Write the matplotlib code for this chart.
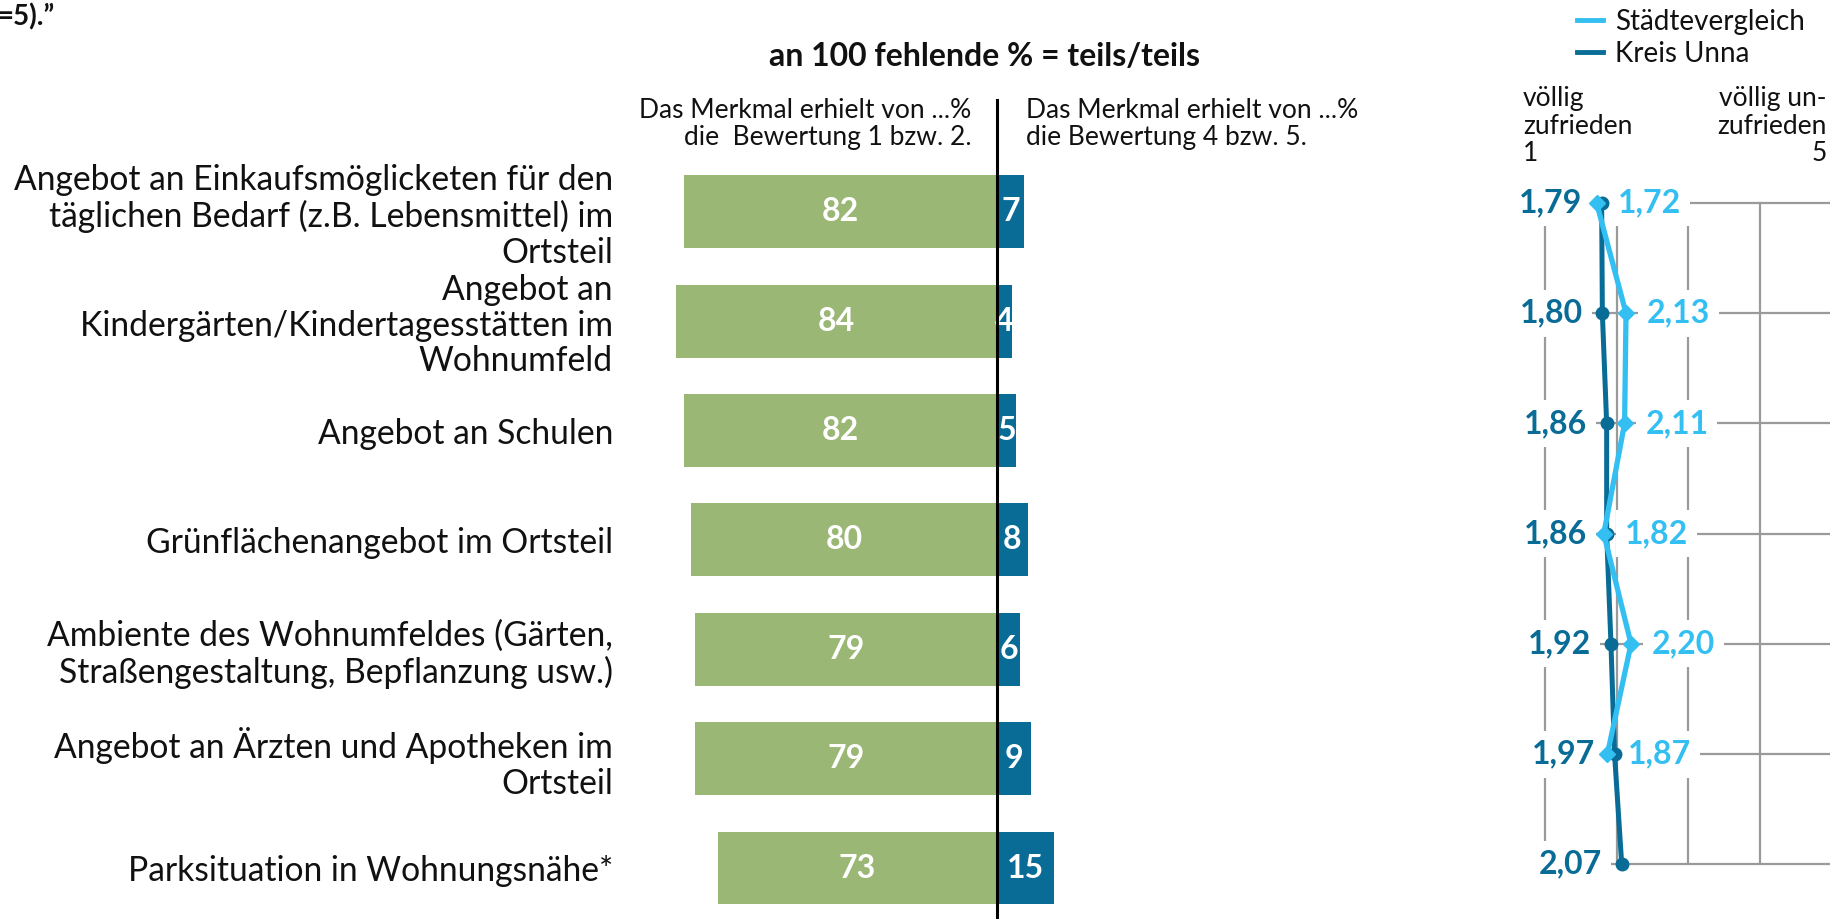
import matplotlib
matplotlib.use("Agg")
import matplotlib.pyplot as plt
from matplotlib.lines import Line2D
import numpy as np

plt.rcParams['font.family'] = ['Lato', 'DejaVu Sans']

# ---------------- data ----------------
categories = [
    "Angebot an Einkaufsmöglicketen für den\ntäglichen Bedarf (z.B. Lebensmittel) im\nOrtsteil",
    "Angebot an\nKindergärten/Kindertagesstätten im\nWohnumfeld",
    "Angebot an Schulen",
    "Grünflächenangebot im Ortsteil",
    "Ambiente des Wohnumfeldes (Gärten,\nStraßengestaltung, Bepflanzung usw.)",
    "Angebot an Ärzten und Apotheken im\nOrtsteil",
    "Parksituation in Wohnungsnähe*",
]
satisfied = [82, 84, 82, 80, 79, 79, 73]       # Bewertung 1 bzw. 2
dissatisfied = [7, 4, 5, 8, 6, 9, 15]          # Bewertung 4 bzw. 5
kreis_unna = [1.79, 1.80, 1.86, 1.86, 1.92, 1.97, 2.07]
staedtevergleich = [1.72, 2.13, 2.11, 1.82, 2.20, 1.87, np.nan]
series_names = ["Städtevergleich", "Kreis Unna"]

GREEN = "#9bb775"
DARK = "#086c96"
LIGHT = "#34bff2"
GRID = "#9a9a9a"
TXT = "#111111"

W, H = 1831, 919
fig = plt.figure(figsize=(W / 100, H / 100), dpi=100)
renderer = fig.canvas.get_renderer()


def px_axes(x0, y0, x1, y1):
    return fig.add_axes([x0 / W, 1 - y1 / H, (x1 - x0) / W, (y1 - y0) / H])


def fx(x):
    return x / W


def fy(y):
    return 1 - y / H


def line_step(ls, **kw):
    t1 = fig.text(0, 0, "Ag", linespacing=ls, **kw)
    t2 = fig.text(0, 0, "Ag\nAg", linespacing=ls, **kw)
    h1 = t1.get_window_extent(renderer).height
    h2 = t2.get_window_extent(renderer).height
    t1.remove()
    t2.remove()
    return h2 - h1


def ls_for(target_px, **kw):
    s1 = line_step(1.0, **kw)
    s2 = line_step(2.0, **kw)
    return 1.0 + (target_px - s1) / (s2 - s1)


CAT_FS = 24.2
SUB_FS = 19
cat_ls = ls_for(35.5, fontsize=CAT_FS)
sub_ls = ls_for(28.0, fontsize=SUB_FS)
head_ls = ls_for(27.5, fontsize=SUB_FS)

# ---------------- bar chart ----------------
ax = px_axes(615, 157.1, 1379, 922.7)
ypos = np.arange(len(categories))
ax.barh(ypos, [-v for v in satisfied], height=0.667, color=GREEN, zorder=2)
ax.barh(ypos, dissatisfied, height=0.667, color=DARK, zorder=2)
for i, (s, d) in enumerate(zip(satisfied, dissatisfied)):
    ax.text(-s / 2, i, str(s), ha="center", va="center", color="white",
            fontsize=23, fontweight="bold", zorder=4)
    ax.text(d / 2, i, str(d), ha="center", va="center", color="white",
            fontsize=23, fontweight="bold", zorder=4)
ax.axvline(0, ymin=0, ymax=1 + (157.1 - 100) / (922.7 - 157.1), color="black",
           lw=2.2, clip_on=False, zorder=5)
ax.set_xlim(-100, 100)
ax.set_ylim(len(categories) - 0.5, -0.5)
ax.set_yticks(ypos)
ax.set_yticklabels(categories, fontsize=CAT_FS, linespacing=cat_ls, color=TXT)
ax.tick_params(axis="y", length=0, pad=1.5)
ax.set_xticks([])
for sp in ax.spines.values():
    sp.set_visible(False)
ax.patch.set_alpha(0)

# ---------------- line chart ----------------
lx = px_axes(1545, 203, 1831.8, 864.3)
lx.set_xlim(1, 5)
lx.set_ylim(len(categories) - 1, 0)
lx.set_xticks([1, 2, 3, 4, 5])
lx.set_yticks(ypos)
lx.grid(True, color=GRID, lw=1.6)
for gl in lx.get_xgridlines() + lx.get_ygridlines():
    gl.set_clip_on(False)
lx.tick_params(length=0, labelbottom=False, labelleft=False)
for sp in lx.spines.values():
    sp.set_visible(False)
lx.patch.set_alpha(0)
lx.set_axisbelow(True)

lx.plot(kreis_unna, ypos, color=DARK, lw=3.6, marker="o", ms=9,
        zorder=6, clip_on=False)
lx.plot(staedtevergleich, ypos, color=LIGHT, lw=3.8, marker="D", ms=8,
        zorder=7, clip_on=False)

box = dict(boxstyle="square,pad=0.28", fc="white", ec="none")
for i, v in enumerate(kreis_unna):
    lx.annotate(f"{v:.2f}".replace(".", ","), (v, i), xytext=(-14, 0),
                textcoords="offset points", ha="right", va="center",
                color=DARK, fontsize=23, fontweight="bold", bbox=box,
                zorder=5, annotation_clip=False)
for i, v in enumerate(staedtevergleich):
    if np.isnan(v):
        continue
    lx.annotate(f"{v:.2f}".replace(".", ","), (v, i), xytext=(15, 0),
                textcoords="offset points", ha="left", va="center",
                color=LIGHT, fontsize=23, fontweight="bold", bbox=box,
                zorder=5, annotation_clip=False)

# ---------------- texts ----------------
fig.text(fx(-3), fy(17), "=5).”", ha="left", va="center", fontsize=20,
         fontweight="bold", color=TXT)
fig.text(fx(985), fy(56), "an 100 fehlende % = teils/teils", ha="center",
         va="center", fontsize=23, fontweight="bold", color=TXT)
fig.text(fx(971.5), fy(124), "Das Merkmal erhielt von ...%\ndie  Bewertung 1 bzw. 2.",
         ha="right", va="center", multialignment="right", fontsize=SUB_FS,
         linespacing=sub_ls, color=TXT)
fig.text(fx(1026), fy(124), "Das Merkmal erhielt von ...%\ndie Bewertung 4 bzw. 5.",
         ha="left", va="center", multialignment="left", fontsize=SUB_FS,
         linespacing=sub_ls, color=TXT)
fig.text(fx(1523), fy(126), "völlig\nzufrieden\n1", ha="left", va="center",
         multialignment="left", fontsize=SUB_FS, linespacing=head_ls, color=TXT)
fig.text(fx(1827), fy(126), "völlig un-\nzufrieden\n5", ha="right", va="center",
         multialignment="right", fontsize=SUB_FS, linespacing=head_ls, color=TXT)

handles = [Line2D([], [], color=LIGHT, lw=3.5), Line2D([], [], color=DARK, lw=3.5)]
fig.legend(handles, series_names, loc="upper left",
           bbox_to_anchor=(fx(1577), fy(9)), frameon=False, fontsize=20,
           handlelength=0.93, handletextpad=0.45, labelspacing=0.2,
           borderpad=0, borderaxespad=0, labelcolor=TXT)

fig.savefig("out.png", dpi=100)
